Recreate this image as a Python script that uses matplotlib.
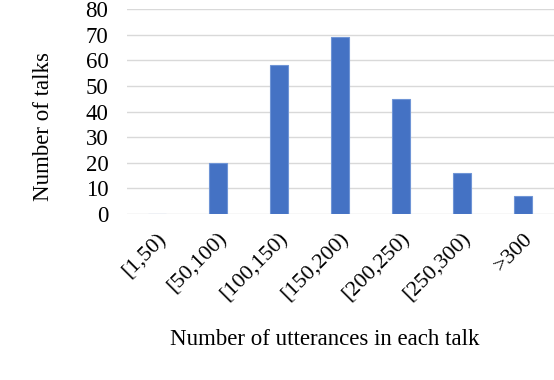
import matplotlib
matplotlib.use("Agg")
import matplotlib.pyplot as plt

categories = ["[1,50)", "[50,100)", "[100,150)", "[150,200)", "[200,250)", "[250,300)", ">300"]
counts = [0, 20, 58, 69, 45, 16, 7]
yticks = [0, 10, 20, 30, 40, 50, 60, 70, 80]

plt.rcParams['font.family'] = ['Liberation Serif', 'DejaVu Serif']

W, H = 554, 380
fig = plt.figure(figsize=(W / 100, H / 100), dpi=100)
ax = fig.add_axes([126.5 / W, 1 - 214 / H, 427 / W, 205 / H])

x = list(range(len(categories)))
ax.bar(x, counts, width=0.31, color='#4472C4', edgecolor='#6F95D6', linewidth=0.8, zorder=3)
ax.set_xlim(-0.5, len(categories) - 0.5)
ax.set_ylim(0, 80)
ax.set_yticks(yticks)
ax.yaxis.grid(True, color='#D9D9D9', linewidth=1.0, zorder=0)
for s in ax.spines.values():
    s.set_visible(False)
ax.tick_params(axis='both', length=0, colors='black')
ax.tick_params(axis='y', pad=13, labelsize=16.5)
ax.set_xticks(x)
ax.set_xticklabels(categories, rotation=45, ha='right', va='top',
                   rotation_mode='anchor', fontsize=16)
ax.tick_params(axis='x', pad=11)
ax.set_ylabel("Number of talks", fontsize=16.5)
ax.yaxis.label.set_va('center')
ax.yaxis.set_label_coords((44 - 126.5) / 427, (214 - 126.5) / 205)
fig.text(325 / W, 1 - 345 / H, "Number of utterances in each talk", fontsize=16.5,
         ha='center', va='baseline')
fig.text(0.0, 1 - 382.5 / H, "Figure 2:   The distribution of talk length (number of utterances)",
         fontsize=16.5, ha='left', va='top', color='#222222')

fig.savefig("out.png", dpi=100)
